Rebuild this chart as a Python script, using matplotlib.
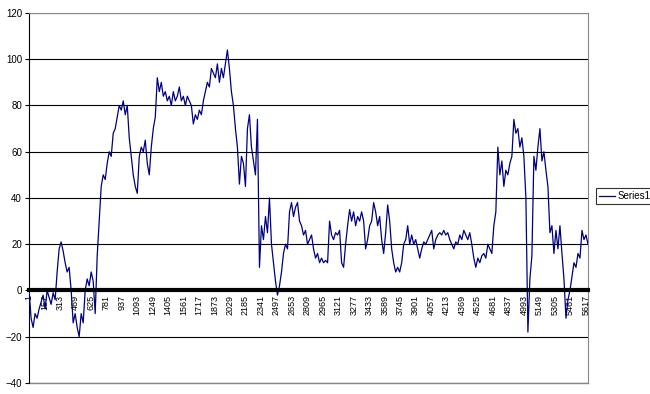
import numpy as np
import matplotlib
matplotlib.use("Agg")
import matplotlib.pyplot as plt

# values, roughly one every 20 points of the series
series1 = [
    0, -12, -16, -10, -12, -8, -5, -2, -8, 0,
    -3, -6, -1, -4, 8, 18, 21, 17, 12, 8,
    10, 0, -14, -10, -16, -20, -10, -14, 0, 5,
    2, 8, 4, -10, 15, 30, 45, 50, 48, 55,
    60, 58, 68, 70, 75, 80, 78, 82, 76, 80,
    66, 58, 50, 45, 42, 58, 62, 60, 65, 55,
    50, 62, 70, 75, 92, 86, 90, 84, 86, 82,
    84, 80, 86, 82, 84, 88, 82, 84, 80, 84,
    82, 80, 72, 76, 74, 78, 76, 82, 86, 90,
    88, 96, 94, 92, 98, 90, 96, 92, 98, 104,
    96, 86, 80, 70, 62, 46, 58, 55, 45, 70,
    76, 62, 56, 50, 74, 10, 28, 22, 32, 25,
    40, 20, 12, 4, -2, 2, 8, 16, 20, 18,
    34, 38, 32, 36, 38, 30, 28, 24, 26, 20,
    22, 24, 18, 14, 16, 12, 14, 12, 13, 12,
    30, 24, 22, 25, 24, 26, 12, 10, 20, 28,
    35, 30, 34, 28, 32, 30, 34, 30, 18, 22,
    28, 30, 38, 34, 28, 32, 22, 16, 25, 37,
    30, 18, 12, 8, 10, 8, 12, 20, 22, 28,
    20, 24, 20, 22, 18, 14, 18, 21, 20, 22,
    24, 26, 18, 22, 24, 25, 24, 26, 24, 25,
    22, 20, 18, 21, 20, 24, 22, 26, 24, 22,
    25, 20, 14, 10, 14, 12, 15, 16, 14, 20,
    18, 16, 28, 34, 62, 50, 56, 45, 52, 50,
    55, 58, 74, 68, 70, 62, 66, 58, 40, -18,
    5, 15, 58, 52, 62, 70, 56, 60, 52, 45,
    25, 28, 16, 26, 18, 28, 16, 5, -12, -4,
    0, 6, 12, 10, 16, 14, 26, 22, 24, 20,
]
n_points = 5640
tick_step = 156
y_ticks = list(range(-40, 121, 20))

x = np.linspace(1, n_points, len(series1))
x_ticks = list(range(1, n_points, tick_step))

plt.rcParams["font.family"] = ["Liberation Sans", "DejaVu Sans"]
plt.rcParams["font.size"] = 7

fig = plt.figure(figsize=(6.5, 3.94), dpi=100)
ax = fig.add_axes([0.0446, 0.028, 0.86, 0.939])

for yv in y_ticks:
    if yv != 0:
        ax.axhline(yv, color="black", lw=0.8, zorder=1)

ax.plot(x, series1, color="#000080", lw=0.9, label="Series1", zorder=3)

# category axis crosses at 0, like the spreadsheet chart
ax.spines["bottom"].set_position(("data", 0))
ax.spines["bottom"].set_linewidth(3)
ax.spines["bottom"].set_zorder(4)
ax.spines["left"].set_color("black")
ax.spines["left"].set_linewidth(0.8)
ax.spines["top"].set_color("#888888")
ax.spines["right"].set_color("#888888")

ax.set_xlim(0, n_points)
ax.set_ylim(-40, 120)
ax.set_yticks(y_ticks)
ax.set_xticks(x_ticks)
ax.set_xticklabels([str(t) for t in x_ticks])
ax.tick_params(axis="x", length=0, pad=3, labelrotation=90, labelsize=6.5)
ax.tick_params(axis="y", length=3, width=0.8, pad=2, labelsize=7)

# grey bottom edge of the plot area
ax.add_line(plt.Line2D([0, n_points], [-40, -40], color="#888888", lw=1, clip_on=False))

leg = fig.legend(loc="center left", bbox_to_anchor=(0.917, 0.502),
                 prop={"size": 7}, frameon=True, fancybox=False,
                 edgecolor="black", handlelength=1.6, borderpad=0.3,
                 handletextpad=0.3, borderaxespad=0)
leg.get_frame().set_linewidth(0.8)

fig.savefig("out.png", dpi=100)
